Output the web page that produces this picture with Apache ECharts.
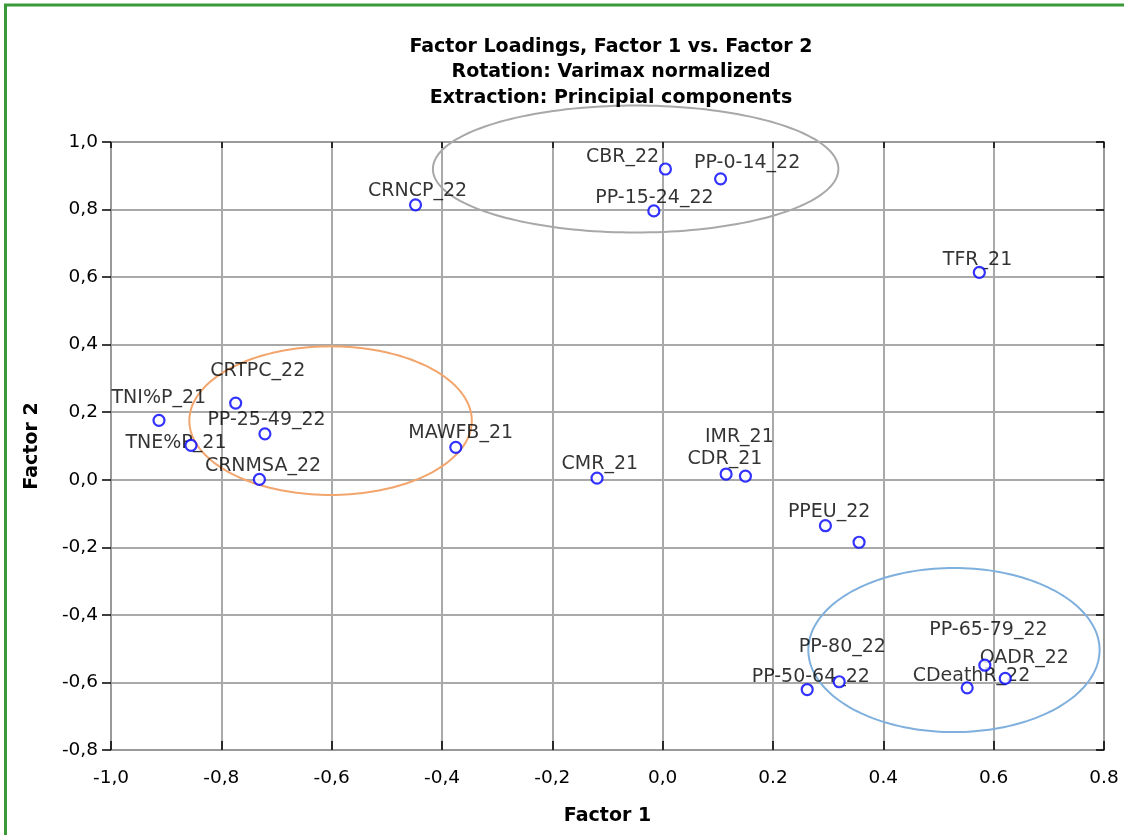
<!DOCTYPE html>
<html>
<head>
<meta charset="utf-8">
<script src="https://cdn.jsdelivr.net/npm/echarts@6/dist/echarts.min.js"></script>
<style>
html,body{margin:0;padding:0;background:#fff;}
#chart{width:1124px;height:835px;}
</style>
</head>
<body>
<div id="chart"></div>
<script>
// ---- Data ----
const names = ['CBR_22','PP-0-14_22','PP-15-24_22','CRNCP_22','TFR_21','CRTPC_22','TNI%P_21','PP-25-49_22','TNE%P_21','CRNMSA_22','MAWFB_21','CMR_21','CDR_21','IMR_21','PPEU_22','','PP-50-64_22','PP-80_22','CDeathR_22','PP-65-79_22','OADR_22'];
const factor1 = [0.005, 0.105, -0.016, -0.448, 0.574, -0.774, -0.913, -0.721, -0.855, -0.731, -0.375, -0.119, 0.115, 0.150, 0.295, 0.356, 0.262, 0.320, 0.552, 0.584, 0.621];
const factor2 = [0.920, 0.891, 0.796, 0.814, 0.614, 0.227, 0.176, 0.136, 0.102, 0.001, 0.096, 0.005, 0.017, 0.011, -0.136, -0.185, -0.621, -0.598, -0.616, -0.549, -0.588];
const xTickLabels = ['-1,0','-0,8','-0,6','-0,4','-0,2','0,0','0.2','0.4','0.6','0.8'];
const yTickLabels = ['-0,8','-0,6','-0,4','-0,2','0,0','0,2','0,4','0,6','0,8','1,0'];
// group ellipses in data units: [centerX, centerY, radiusX, radiusY]
const ellipseCenters = [[-0.049, 0.920], [-0.602, 0.175], [0.528, -0.504]];
const ellipseRadii = [[0.3675, 0.188], [0.256, 0.220], [0.264, 0.243]];

// ---- Styling (label placement relative to each point, px) ----
const labelOffsets = [[-79,-11],[-26,-15],[-58,-12],[-47,-13],[-36,-12],[-25,-32],[-47,-22],[-57,-13],[-65,-2],[-54,-13],[-47,-14],[-35,-14],[-38,-14],[-40,-38],[-37,-13],[0,0],[-55,-12],[-40,-34],[-54,-11],[-55,-35],[-25,-20]];
const ellipseColors = ['#a8a8a8', '#f2a56c', '#7fb0dd'];

const XMIN = -1.0, XMAX = 0.8, YMIN = -0.8, YMAX = 1.0, STEP = 0.2;
const FONT = 'DejaVu Sans';

function tickFmt(labels, min) {
  return function (v) {
    const i = Math.round((v - min) / STEP);
    return labels[i] !== undefined ? labels[i] : '';
  };
}

const labelData = names.map((n, i) => ({
  value: [factor1[i], factor2[i]],
  name: n,
  label: { position: labelOffsets[i] }
}));
const pointData = names.map((n, i) => [factor1[i], factor2[i]]);
const ellipseData = ellipseCenters.map((c, i) => [c[0], c[1], ellipseRadii[i][0], ellipseRadii[i][1], i]);

const chart = echarts.init(document.getElementById('chart'), null, { renderer: 'canvas' });

const gridLine = { show: true, lineStyle: { color: '#a9a9a9', width: 2 } };
const frameLine = { show: true, onZero: false, lineStyle: { color: '#9a9a9a', width: 2 } };

chart.setOption({
  backgroundColor: '#ffffff',
  animation: false,
  title: {
    text: 'Factor Loadings, Factor 1 vs. Factor 2\nRotation: Varimax normalized\nExtraction: Principial components',
    left: 606,
    top: 29,
    textAlign: 'center',
    textStyle: { fontFamily: FONT, fontWeight: 'bold', fontSize: 19, lineHeight: 25.5, color: '#000' }
  },
  graphic: [{
    type: 'rect',
    shape: { x: 5.5, y: 5, width: 1300, height: 1000 },
    style: { fill: 'none', stroke: '#3a9a3a', lineWidth: 3 },
    silent: true
  }],
  grid: { left: 111, right: 20, top: 142, bottom: 85, containLabel: false },
  xAxis: [{
    type: 'value', min: XMIN, max: XMAX, interval: STEP, position: 'bottom',
    name: 'Factor 1', nameLocation: 'middle', nameGap: 57,
    nameTextStyle: { fontFamily: FONT, fontWeight: 'bold', fontSize: 19, color: '#000' },
    axisLine: frameLine,
    axisTick: { show: true, inside: true, length: 9, lineStyle: { color: '#000', width: 1.5 } },
    axisLabel: { show: true, margin: 19, formatter: tickFmt(xTickLabels, XMIN), fontFamily: FONT, fontSize: 18.5, color: '#000' },
    splitLine: gridLine
  }, {
    type: 'value', min: XMIN, max: XMAX, interval: STEP, position: 'top',
    axisLine: frameLine,
    axisTick: { show: true, inside: true, length: 6, lineStyle: { color: '#000', width: 1.5 } },
    axisLabel: { show: false },
    splitLine: { show: false }
  }],
  yAxis: [{
    type: 'value', min: YMIN, max: YMAX, interval: STEP, position: 'left',
    name: 'Factor 2', nameLocation: 'middle', nameGap: 69, nameRotate: 90,
    nameTextStyle: { fontFamily: FONT, fontWeight: 'bold', fontSize: 19, color: '#000' },
    axisLine: frameLine,
    axisTick: { show: true, inside: false, length: 9, lineStyle: { color: '#000', width: 1.5 } },
    axisLabel: { show: true, margin: 13, formatter: tickFmt(yTickLabels, YMIN), fontFamily: FONT, fontSize: 18.5, color: '#000' },
    splitLine: gridLine
  }, {
    type: 'value', min: YMIN, max: YMAX, interval: STEP, position: 'right',
    axisLine: frameLine,
    axisTick: { show: true, inside: true, length: 8, lineStyle: { color: '#000', width: 1.5 } },
    axisLabel: { show: false },
    splitLine: { show: false }
  }],
  series: [{
    type: 'custom',
    name: 'groups',
    z: 1,
    silent: true,
    data: ellipseData,
    encode: { x: 0, y: 1 },
    renderItem: function (params, api) {
      const c = api.coord([api.value(0), api.value(1)]);
      const s = api.size([api.value(2), api.value(3)]);
      const idx = api.value(4);
      const pts = [];
      for (let k = 0; k < 180; k++) {
        const t = k / 180 * Math.PI * 2;
        pts.push([c[0] + s[0] * Math.cos(t), c[1] + s[1] * Math.sin(t)]);
      }
      return {
        type: 'polygon',
        shape: { points: pts },
        style: { fill: 'none', stroke: ellipseColors[idx], lineWidth: 2 }
      };
    }
  }, {
    type: 'scatter',
    name: 'labels',
    z: 2,
    symbolSize: 1,
    itemStyle: { color: 'rgba(0,0,0,0)' },
    data: labelData,
    label: {
      show: true,
      formatter: '{b}',
      align: 'left',
      verticalAlign: 'middle',
      fontFamily: FONT,
      fontSize: 19,
      color: '#000',
      textBorderWidth: 0
    },
    labelLayout: { hideOverlap: false }
  }, {
    type: 'scatter',
    name: 'points',
    z: 3,
    symbol: 'circle',
    symbolSize: 11,
    itemStyle: { color: '#ffffff', borderColor: '#0000ff', borderWidth: 2.2 },
    data: pointData
  }]
});
</script>
</body>
</html>
